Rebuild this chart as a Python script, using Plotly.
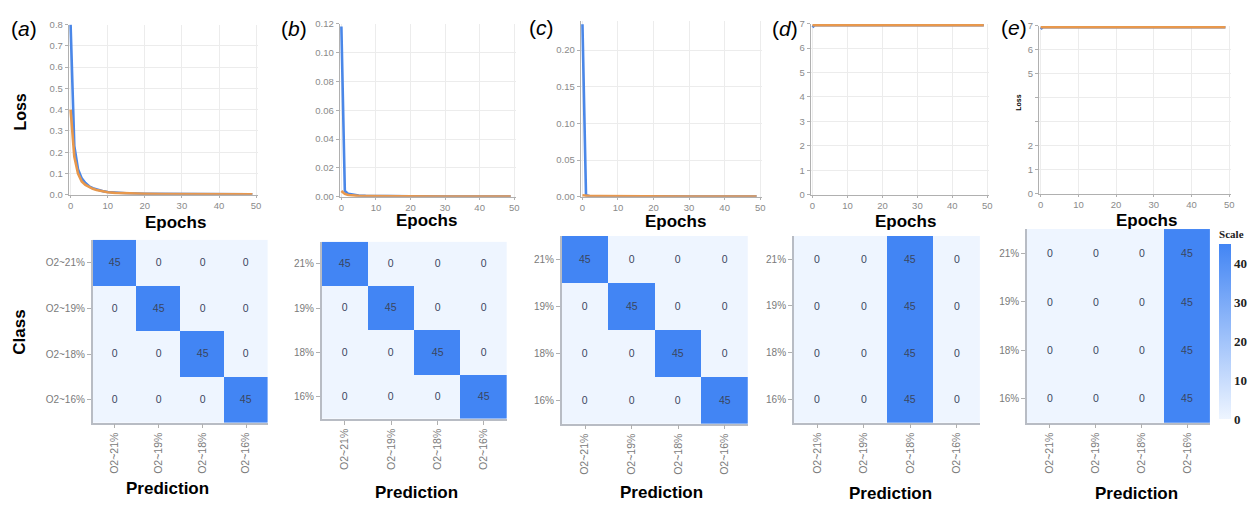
import plotly.graph_objects as go
from plotly.subplots import make_subplots

W, H = 1254, 506

# ---------------- data ----------------
epochs_a = [0, 1, 2, 3, 4, 5, 6, 7, 8, 9, 10, 12, 15, 20, 25, 30, 35, 40, 45, 49]
loss_a_blue = [0.80, 0.23, 0.12, 0.077, 0.055, 0.040, 0.031, 0.025, 0.020, 0.016,
               0.013, 0.010, 0.007, 0.005, 0.004, 0.003, 0.003, 0.002, 0.002, 0.002]
loss_a_orange = [0.40, 0.18, 0.10, 0.063, 0.046, 0.035, 0.028, 0.023, 0.019, 0.015,
                 0.012, 0.009, 0.007, 0.005, 0.004, 0.003, 0.003, 0.002, 0.002, 0.002]

epochs_b = [0, 1, 2, 3, 4, 5, 7, 10, 15, 20, 30, 40, 49]
loss_b_blue = [0.118, 0.004, 0.002, 0.0015, 0.001, 0.0009, 0.0007, 0.0005, 0.0004,
               0.0003, 0.0002, 0.0002, 0.0002]
loss_b_orange = [0.004, 0.002, 0.0012, 0.0009, 0.0007, 0.0006, 0.0005, 0.0004,
                 0.0003, 0.0003, 0.0002, 0.0002, 0.0002]

epochs_c = [0, 1, 2, 5, 10, 20, 30, 40, 49]
loss_c_blue = [0.235, 0.002, 0.001, 0.0008, 0.0006, 0.0005, 0.0004, 0.0004, 0.0004]
loss_c_orange = [0.002, 0.0012, 0.001, 0.0008, 0.0006, 0.0005, 0.0004, 0.0004, 0.0004]

epochs_d = [0, 0.5, 10, 20, 30, 40, 49]
loss_d_blue = [6.85, 6.93, 6.93, 6.93, 6.93, 6.93, 6.93]
loss_d_orange = [6.93, 6.93, 6.93, 6.93, 6.93, 6.93, 6.93]

epochs_e = [0, 0.5, 10, 20, 30, 40, 49]
loss_e_blue = [6.85, 6.93, 6.93, 6.93, 6.93, 6.93, 6.93]
loss_e_orange = [6.93, 6.93, 6.93, 6.93, 6.93, 6.93, 6.93]

pred_labels = ["O2~21%", "O2~19%", "O2~18%", "O2~16%"]
class_labels_a = ["O2~21%", "O2~19%", "O2~18%", "O2~16%"]
class_labels = ["21%", "19%", "18%", "16%"]

cm_a = [[45, 0, 0, 0], [0, 45, 0, 0], [0, 0, 45, 0], [0, 0, 0, 45]]
cm_b = [[45, 0, 0, 0], [0, 45, 0, 0], [0, 0, 45, 0], [0, 0, 0, 45]]
cm_c = [[45, 0, 0, 0], [0, 45, 0, 0], [0, 0, 45, 0], [0, 0, 0, 45]]
cm_d = [[0, 0, 45, 0], [0, 0, 45, 0], [0, 0, 45, 0], [0, 0, 45, 0]]
cm_e = [[0, 0, 0, 45], [0, 0, 0, 45], [0, 0, 0, 45], [0, 0, 0, 45]]

scale_ticks = [0, 10, 20, 30, 40]
panel_letters = ["a", "b", "c", "d", "e"]

# ---------------- layout geometry (pixels) ----------------
top_x = [(68, 258), (340, 517), (582, 764), (813, 992), (1042, 1235)]
top_y = [(19, 193), (18, 195), (15, 195), (18, 193), (20, 192)]
bot_x = [(92, 268), (322, 508), (563, 750), (796, 983), (1030, 1214)]
bot_y = [(239, 426), (241, 422), (235, 427), (235, 426), (228, 426)]

BLUE = "#4A87E8"
ORANGE = "#E8984C"
FONT = "Liberation Sans"

fig = make_subplots(rows=2, cols=5)

loss_sets = [
    (epochs_a, loss_a_blue, loss_a_orange),
    (epochs_b, loss_b_blue, loss_b_orange),
    (epochs_c, loss_c_blue, loss_c_orange),
    (epochs_d, loss_d_blue, loss_d_orange),
    (epochs_e, loss_e_blue, loss_e_orange),
]
for i, (ep, lb, lo) in enumerate(loss_sets):
    fig.add_trace(go.Scatter(x=ep, y=lb, mode="lines", line=dict(color=BLUE, width=2.6),
                             showlegend=False), row=1, col=i + 1)
    fig.add_trace(go.Scatter(x=ep, y=lo, mode="lines", line=dict(color=ORANGE, width=2.6),
                             showlegend=False), row=1, col=i + 1)

cms = [cm_a, cm_b, cm_c, cm_d, cm_e]
for i, cm in enumerate(cms):
    ylabels = class_labels_a if i == 0 else class_labels
    fig.add_trace(go.Heatmap(z=cm, x=pred_labels, y=ylabels, coloraxis="coloraxis",
                             texttemplate="%{z}",
                             textfont=dict(family=FONT, size=10.5, color="#3a4660"),
                             xgap=0, ygap=0, hoverinfo="skip"),
                  row=2, col=i + 1)


def px_dom_x(a, b):
    return [a / W, b / W]


def px_dom_y(top, bottom):
    return [1 - bottom / H, 1 - top / H]


tick_font = dict(family=FONT, size=9.5, color="#8a8a8a")

y_specs = [
    dict(range=[0, 0.8], tickvals=[0, 0.1, 0.2, 0.3, 0.4, 0.5, 0.6, 0.7, 0.8], tickformat=".1f"),
    dict(range=[0, 0.12], tickvals=[0, 0.02, 0.04, 0.06, 0.08, 0.10, 0.12], tickformat=".2f"),
    dict(range=[0, 0.24], tickvals=[0, 0.05, 0.10, 0.15, 0.20], tickformat=".2f"),
    dict(range=[0, 7], tickvals=[0, 1, 2, 3, 4, 5, 6, 7]),
    dict(range=[0, 7], tickvals=[0, 1, 2, 3, 4, 5, 6, 7],
         ticktext=["0", "1", "2", "", "", "5", "6", "7"]),
]

layout_updates = {}
for i in range(5):
    xi = "xaxis" if i == 0 else f"xaxis{i + 1}"
    yi = "yaxis" if i == 0 else f"yaxis{i + 1}"
    layout_updates[xi] = dict(domain=px_dom_x(*top_x[i]), range=[-0.5, 50.5],
                              tickvals=[0, 10, 20, 30, 40, 50], showline=True,
                              linecolor="#b0b0b0", linewidth=1, ticks="outside",
                              ticklen=2, tickcolor="#b0b0b0", showgrid=True,
                              gridcolor="#ececec", zeroline=False, tickfont=tick_font)
    ys = dict(domain=px_dom_y(*top_y[i]), showline=True, linecolor="#b0b0b0",
              linewidth=1, ticks="outside", ticklen=3, tickcolor="#b0b0b0",
              showgrid=True, gridcolor="#ececec", zeroline=False, tickfont=tick_font)
    ys.update(y_specs[i])
    layout_updates[yi] = ys

    xj = f"xaxis{i + 6}"
    yj = f"yaxis{i + 6}"
    layout_updates[xj] = dict(domain=px_dom_x(*bot_x[i]), showline=True,
                              linecolor="#b8bcc4", linewidth=1.5, ticks="outside",
                              ticklen=4, tickcolor="#b0b0b0", showgrid=False,
                              zeroline=False, tickangle=-90,
                              tickfont=dict(family=FONT, size=10.5, color="#7a7a7a"))
    layout_updates[yj] = dict(domain=px_dom_y(*bot_y[i]), showline=True,
                              linecolor="#b8bcc4", linewidth=1.5, ticks="outside",
                              ticklen=4, tickcolor="#b0b0b0", showgrid=False,
                              zeroline=False, autorange="reversed",
                              tickfont=dict(family=FONT, size=10, color="#7a7a7a"))

fig.update_layout(**layout_updates)

fig.update_layout(
    width=W, height=H, autosize=False,
    margin=dict(l=0, r=0, t=0, b=0),
    paper_bgcolor="white", plot_bgcolor="white",
    showlegend=False,
    coloraxis=dict(
        colorscale=[[0, "#EEF5FF"], [1, "#4285F4"]], cmin=0, cmax=45,
        colorbar=dict(
            title=dict(text="<b>Scale</b>", side="top",
                       font=dict(family="Liberation Serif", size=11, color="#222")),
            thickness=12, len=192, lenmode="pixels",
            x=1223 / W, xanchor="left", xpad=0,
            y=1 - 226 / H, yanchor="top", ypad=0,
            outlinewidth=0, tickvals=scale_ticks,
            ticktext=[f"<b>{t}</b>" for t in scale_ticks], ticks="",
            tickfont=dict(family="Liberation Serif", size=13, color="#222"),
        ),
    ),
)

annotations = []


def add_text(text, x, y, size, bold=True, angle=0, color="black", family=FONT):
    annotations.append(dict(text=f"<b>{text}</b>" if bold else text,
                            x=x / W, y=1 - y / H, xref="paper", yref="paper",
                            showarrow=False, textangle=angle,
                            font=dict(family=family, size=size, color=color),
                            xanchor="center", yanchor="middle"))


# panel letters
letter_pos = [(23, 23), (294, 23), (543, 22), (787, 23), (1017, 22)]
for (lx, ly), letter in zip(letter_pos, panel_letters):
    add_text(f"(<i>{letter}</i>)", lx, ly, 21, bold=False)

# Epochs titles
epochs_pos = [(175, 221), (427, 219), (677, 220), (908, 220), (1150, 219)]
for ex, ey in epochs_pos:
    add_text("Epochs", ex, ey, 17)

# Prediction titles
pred_pos = [(167, 493), (417, 497), (663, 497), (893, 498), (1140, 498)]
for px_, py_ in pred_pos:
    add_text("Prediction", px_, py_, 17)

add_text("Loss", 20, 108, 16, angle=-90)
add_text("Loss", 1022, 99, 7, angle=-90)
add_text("Class", 19, 333, 17, angle=-90)

fig.update_layout(annotations=annotations)

fig.write_html("out.html")
